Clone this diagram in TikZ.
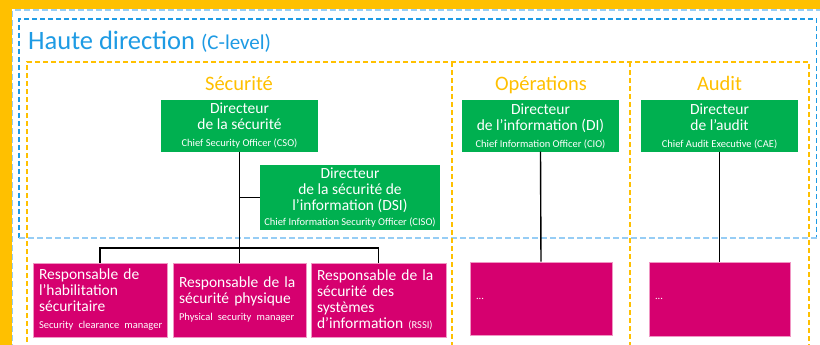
\documentclass[tikz,border=0pt]{standalone}
\usepackage{fontspec}
\setmainfont{Carlito}
\definecolor{cyel}{RGB}{255,192,0}
\definecolor{cblue}{RGB}{30,155,228}
\definecolor{clblue}{RGB}{150,205,245}
\definecolor{cgreen}{RGB}{0,176,80}
\definecolor{cpink}{RGB}{214,0,111}
\definecolor{cpinkedge}{RGB}{240,150,195}
\newcommand{\bigf}{\fontsize{15.5}{16}\selectfont}
\newcommand{\smallf}{\fontsize{10.5}{12}\selectfont}
\hyphenpenalty=10000
\tikzset{
  greenbox/.style={fill=cgreen, text=white, inner sep=0pt, align=center, minimum height=51pt, minimum width=157pt, font=\bigf},
  pinkbox/.style={fill=cpink, draw=cpinkedge, line width=0.6pt, text=white, inner ysep=0pt, inner xsep=6pt, align=left, font=\bigf},
  ydash/.style={draw=cyel, line width=1.1pt, dash pattern=on 5pt off 3pt},
  bdash/.style={draw=cblue, line width=1.1pt, dash pattern=on 5pt off 3pt},
  lbdash/.style={draw=clblue, line width=1.1pt, dash pattern=on 6pt off 3pt},
  title/.style={text=cyel, font=\fontsize{20.5}{24}\selectfont, inner sep=0pt, anchor=base},
  conn/.style={draw=black, line width=1.4pt}
}
\begin{document}
\begin{tikzpicture}[x=1pt,y=-1pt]
\useasboundingbox (0,0) rectangle (820,345);
% background frame
\fill[cyel] (0,0) rectangle (820,345);
\fill[white] (12,9) rectangle (820,345);
% outer light blue dashed
\draw[lbdash] (12.5,350) -- (12.5,10) -- (825,10);
% Haute direction box
\draw[bdash] (19,238) -- (19,19) -- (816.5,19) -- (816.5,238);
\draw[lbdash] (19,238) -- (816.5,238);
% columns
\draw[ydash] (27,350) -- (27,62) -- (809,62) -- (809,350);
\draw[ydash] (452,62) -- (452,350);
\draw[ydash] (630,62) -- (630,350);
% titles
\node[text=cblue, anchor=base west, inner sep=0pt] (hd) at (28,50)
  {\fontsize{26.5}{30}\selectfont Haute direction {\fontsize{21}{24}\selectfont(C-level)}};
\node[title] (tsec) at (239,91) {Sécurité};
\node[title] (tops) at (541,91) {Opérations};
\node[title] (taud) at (719.5,91) {Audit};
% green boxes
\node[greenbox] (cso) at (239.5,126) {Directeur\\de la sécurité\\[1pt]{\smallf Chief Security Officer (CSO)}};
\node[greenbox] (cio) at (540.5,126) {Directeur\\de l’information (DI)\\[1pt]{\smallf Chief Information Officer (CIO)}};
\node[greenbox] (cae) at (719.5,126) {Directeur\\de l’audit\\[1pt]{\smallf Chief Audit Executive (CAE)}};
\node[greenbox, minimum width=180pt, minimum height=65pt] (ciso) at (350,197.5) {Directeur\\de la sécurité de\\l’information (DSI)\\[-1pt]{\smallf Chief Information Security Officer (CISO)}};
% pink boxes
\node[pinkbox, text width=122pt, minimum height=74pt] (p1) at (100,300) {Responsable de\\l’habilitation\\sécuritaire\\[1pt]\mbox{\smallf Security clearance manager}};
\node[pinkbox, text width=121pt, minimum height=74pt] (p2) at (239.5,300) {Responsable de la\\sécurité physique\\[1pt]\mbox{\smallf Physical security manager}};
\node[pinkbox, text width=123pt, minimum height=74pt] (p3) at (378.5,300) {Responsable de la\\sécurité des\\systèmes\\d’information {\smallf (RSSI)}};
\node[pinkbox, text width=130pt, minimum height=73pt, font=\smallf] (p4) at (541,298.5) {...};
\node[pinkbox, text width=129pt, minimum height=74pt, font=\smallf] (p5) at (719.5,299) {...};
% connectors
\coordinate (bar) at (239.5,248);
\draw[conn] (cso.south) -- (p2.north);
\draw[conn] (p1.north) |- (bar) -| (p3.north);
\draw[conn] (ciso.west) -- (ciso.west -| cso.south);
\draw[conn] (cio.south) -- (p4.north);
\draw[conn] (cae.south) -- (p5.north);
\end{tikzpicture}
\end{document}
